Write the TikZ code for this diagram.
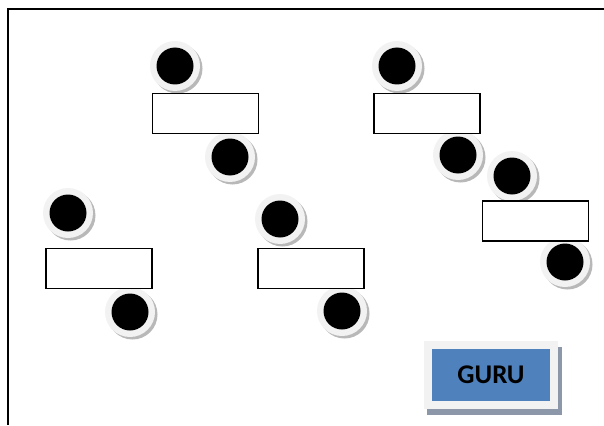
\documentclass[tikz,border=0pt]{standalone}
\usepackage{fontspec}
\setmainfont{Carlito}
\usetikzlibrary{shadows}
\definecolor{guruShadow}{RGB}{140,152,170}
\definecolor{guruBlue}{RGB}{79,129,189}
\begin{document}
\begin{tikzpicture}[x=1pt,y=1pt,
  disc/.style={circle, minimum size=50pt, inner sep=0pt, fill=black!5,
    drop shadow={shadow xshift=2.5pt, shadow yshift=-2.5pt, fill=black!28, opacity=1},
    path picture={\fill[black] (path picture bounding box.center) circle (18.5pt);}},
  slot/.style={draw=black, line width=1.4pt, fill=white, minimum width=106pt, minimum height=40pt, inner sep=0pt},
  frame/.style={line width=1.4pt, draw=black}]
\useasboundingbox (0,0) rectangle (604,-425);
% frame
\draw[frame] (7,-9) -- (604,-9);
\draw[frame] (8,-9) -- (8,-425);
% group A
\node[disc] (a1) at (175,-66) {};
\node[disc] (a2) at (230,-157) {};
\node[slot] (ra) at (205.5,-113.5) {};
% group B
\node[disc] (b1) at (397,-66) {};
\node[disc] (b2) at (458,-155) {};
\node[slot] (rb) at (427,-113.5) {};
% group C
\node[disc] (c1) at (512,-176) {};
\node[disc] (c2) at (565,-262) {};
\node[slot] (rc) at (535.5,-221) {};
% group D
\node[disc] (d1) at (68,-213) {};
\node[disc] (d2) at (130,-312) {};
\node[slot] (rd) at (99,-268.5) {};
% group E
\node[disc] (e1) at (280,-219) {};
\node[disc] (e2) at (342,-311) {};
\node[slot] (re) at (311,-268.5) {};
% GURU
\fill[guruShadow] (427,-347) rectangle (562,-415);
\fill[black!5] (424,-341) rectangle (558,-409);
\node[fill=guruBlue, minimum width=118pt, minimum height=52pt, inner sep=0pt,
  font=\bfseries\fontsize{27}{30}\selectfont] (guru) at (491,-375) {GURU};
\end{tikzpicture}
\end{document}
